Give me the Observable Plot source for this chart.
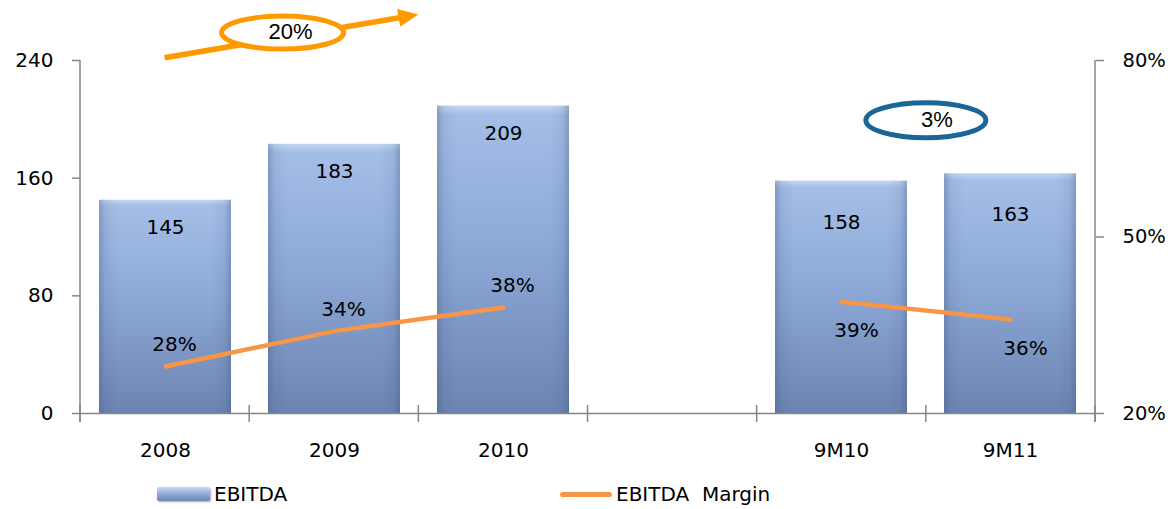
<!DOCTYPE html>
<html>
<head>
<meta charset="utf-8">
<script src="https://cdn.jsdelivr.net/npm/d3@7"></script>
<script src="https://cdn.jsdelivr.net/npm/@observablehq/plot@0.6"></script>
<style>
  html, body { margin: 0; padding: 0; background: #fff; }
  #wrap { position: relative; width: 1173px; height: 509px; font-family: "DejaVu Sans", sans-serif; }
  #legend { position: relative; height: 39px; font-size: 20px; color: #000; }
  .lg { position: absolute; display: flex; align-items: center; top: 11px; height: 26px; }
  .sw-bar { width: 53px; height: 14px; background: linear-gradient(#c9dbf5 0%, #9db8e2 35%, #6c84b0 100%); border-radius: 2px; margin-right: 4px; box-shadow: 1px 1px 2px rgba(0,0,0,.35); }
  .sw-line { width: 52px; height: 5px; background: #f79646; border-radius: 3px; margin-right: 4px; }
</style>
</head>
<body>
<div id="wrap">
  <div id="chart"></div>
  <div id="legend">
    <div class="lg" style="left:157px"><div class="sw-bar"></div><span>EBITDA</span></div>
    <div class="lg" style="left:560px"><div class="sw-line"></div><span>EBITDA&nbsp; Margin</span></div>
  </div>
</div>
<script>
// ---- data ----
const categories = ["2008", "2009", "2010", " ", "9M10", "9M11"];
const barCats = ["2008", "2009", "2010", "9M10", "9M11"];
const ebitda = [145, 183, 209, 158, 163];
const marginPct = [28, 34, 38, 39, 36];
const period = ["FY", "FY", "FY", "9M", "9M"];
const leftTicks = [0, 80, 160, 240];
const rightTicks = [20, 50, 80];
const growthLabels = ["20%", "3%"];

const rightMin = 20, rightMax = 80, leftMax = 240;
const toLeft = m => (m - rightMin) / (rightMax - rightMin) * leftMax;

const rows = barCats.map((c, i) => ({cat: c, v: ebitda[i], m: marginPct[i], g: period[i]}));
const fy = rows.filter(d => d.g === "FY");
const nm = rows.filter(d => d.g === "9M");

const axisGrey = "#868686";
const font = "'DejaVu Sans', sans-serif";

const plot = Plot.plot({
  width: 1173,
  height: 470,
  marginLeft: 80,
  marginRight: 78,
  marginTop: 60,
  marginBottom: 57,
  x: {domain: categories, paddingInner: 0.22, paddingOuter: 0.11, axis: null},
  y: {domain: [0, leftMax], axis: null},
  style: {fontFamily: font, fontSize: "20px", color: "#000", overflow: "visible", background: "#fff"},
  marks: [
    Plot.barY(rows, {x: "cat", y: "v", fill: "url(#gV)", ariaLabel: "ebitda-bars"}),
    Plot.barY(rows, {x: "cat", y: "v", fill: "url(#gH)", ariaLabel: "ebitda-sheen"}),
    Plot.ruleY([0], {stroke: axisGrey, strokeWidth: 1.5}),
    Plot.axisY(leftTicks, {anchor: "left", tickSize: 8, tickPadding: 19, stroke: axisGrey, strokeWidth: 1.5, fontSize: 20, label: null}),
    Plot.axisY(rightTicks.map(toLeft), {anchor: "right", tickSize: 8, tickPadding: 19, stroke: axisGrey, strokeWidth: 1.5, fontSize: 19.5, label: null,
      tickFormat: v => `${Math.round(v / leftMax * (rightMax - rightMin) + rightMin)}%`}),
    Plot.axisX({tickSize: 0, tickPadding: 29, fontSize: 20, label: null, tickFormat: d => d.trim()}),
    Plot.line(rows, {x: "cat", y: d => toLeft(d.m), z: "g", stroke: "#f79646", strokeWidth: 4.5, strokeLinecap: "round"}),
    Plot.text(fy, {x: "cat", y: "v", text: d => String(d.v), dy: 27, fontSize: 20}),
    Plot.text(nm, {x: "cat", y: "v", text: d => String(d.v), dy: 41, fontSize: 20}),
    Plot.text(fy, {x: "cat", y: d => toLeft(d.m), text: d => d.m + "%", dx: 9, dy: -22, fontSize: 20}),
    Plot.text(nm, {x: "cat", y: d => toLeft(d.m), text: d => d.m + "%", dx: 15, dy: 29, fontSize: 20})
  ]
});
document.getElementById("chart").appendChild(plot);

// ---- defs: gradients & shadow ----
const svg = d3.select(plot);
const defs = svg.insert("defs", ":first-child");
const gV = defs.append("linearGradient").attr("id", "gV").attr("x1", 0).attr("y1", 0).attr("x2", 0).attr("y2", 1);
[[0, "#c4d7f3"], [0.03, "#a4bee7"], [0.45, "#8ea9d8"], [1, "#6c84b1"]].forEach(([o, c]) => gV.append("stop").attr("offset", o).attr("stop-color", c));
const gH = defs.append("linearGradient").attr("id", "gH").attr("x1", 0).attr("y1", 0).attr("x2", 1).attr("y2", 0);
[[0, 0.35], [0.05, 0.1], [0.15, 0], [0.85, 0], [0.95, 0.1], [1, 0.35]].forEach(([o, a]) => gH.append("stop").attr("offset", o).attr("stop-color", "#3d5480").attr("stop-opacity", a));
const f = defs.append("filter").attr("id", "shadow").attr("x", "-10%").attr("y", "-10%").attr("width", "130%").attr("height", "130%");
f.append("feDropShadow").attr("dx", 2).attr("dy", 2).attr("stdDeviation", 1.6).attr("flood-color", "#000").attr("flood-opacity", 0.35);
svg.selectAll('g[aria-label="ebitda-bars"]').attr("filter", "url(#shadow)");

// ---- scales from the plot ----
const xd = plot.scale("x");
const xb = d3.scaleBand().domain(xd.domain).range(xd.range)
  .paddingInner(xd.paddingInner ?? 0.22).paddingOuter(xd.paddingOuter ?? 0.11).align(xd.align ?? 0.5);
const yd = plot.scale("y");
const yl = d3.scaleLinear().domain(yd.domain).range(yd.range);
const step = xb.step();
const left = c => xb(c) - step * xb.paddingInner() / 2;
const center = c => xb(c) + xb.bandwidth() / 2;
const y0 = yl(0), yTop = yl(leftMax);

// axis lines and category boundary ticks
const ax = svg.append("g").attr("stroke", axisGrey).attr("stroke-width", 1.5);
const bounds = categories.map(left).concat([left(categories[categories.length - 1]) + step]);
bounds.forEach(b => ax.append("line").attr("x1", b).attr("x2", b).attr("y1", y0 - 8).attr("y2", y0 + 9));
ax.append("line").attr("x1", bounds[0]).attr("x2", bounds[0]).attr("y1", yTop).attr("y2", y0 + 9);
ax.append("line").attr("x1", bounds[bounds.length - 1]).attr("x2", bounds[bounds.length - 1]).attr("y1", yTop).attr("y2", y0 + 9);

// ---- growth annotations ----
const ann = svg.append("g");
const ax1 = center("2008"), ay1 = yl(241.5);
const ax2 = left("2010"), ay2 = yl(271);
const ang = Math.atan2(ay2 - ay1, ax2 - ax1);
const headL = 20, headW = 9;
const bx = ax2 - headL * Math.cos(ang), by = ay2 - headL * Math.sin(ang);
ann.append("line").attr("x1", ax1).attr("y1", ay1).attr("x2", bx + 2 * Math.cos(ang)).attr("y2", by + 2 * Math.sin(ang))
  .attr("stroke", "#ff9900").attr("stroke-width", 5.5);
ann.append("path").attr("fill", "#ff9900")
  .attr("d", `M${ax2},${ay2}L${bx - headW * Math.sin(ang)},${by + headW * Math.cos(ang)}L${bx + headW * Math.sin(ang)},${by - headW * Math.cos(ang)}Z`);
const t = 0.465;
const ecx = ax1 + (ax2 - ax1) * t, ecy = ay1 + (ay2 - ay1) * t - 5;
ann.append("ellipse").attr("cx", ecx).attr("cy", ecy).attr("rx", 61).attr("ry", 16.5)
  .attr("fill", "#fff").attr("stroke", "#ff9900").attr("stroke-width", 5);
ann.append("text").attr("x", ecx + 8).attr("y", ecy + 1).attr("text-anchor", "middle").attr("dominant-baseline", "middle")
  .attr("font-family", "'Liberation Sans', Arial, sans-serif").attr("font-size", 22).text(growthLabels[0]);

const bcx = left("9M11"), bcy = yl(199);
ann.append("ellipse").attr("cx", bcx).attr("cy", bcy).attr("rx", 60).attr("ry", 17.5)
  .attr("fill", "#fff").attr("stroke", "#1b6598").attr("stroke-width", 5);
ann.append("text").attr("x", bcx + 11).attr("y", bcy + 1).attr("text-anchor", "middle").attr("dominant-baseline", "middle")
  .attr("font-family", "'Liberation Sans', Arial, sans-serif").attr("font-size", 22).text(growthLabels[1]);
</script>
</body>
</html>
